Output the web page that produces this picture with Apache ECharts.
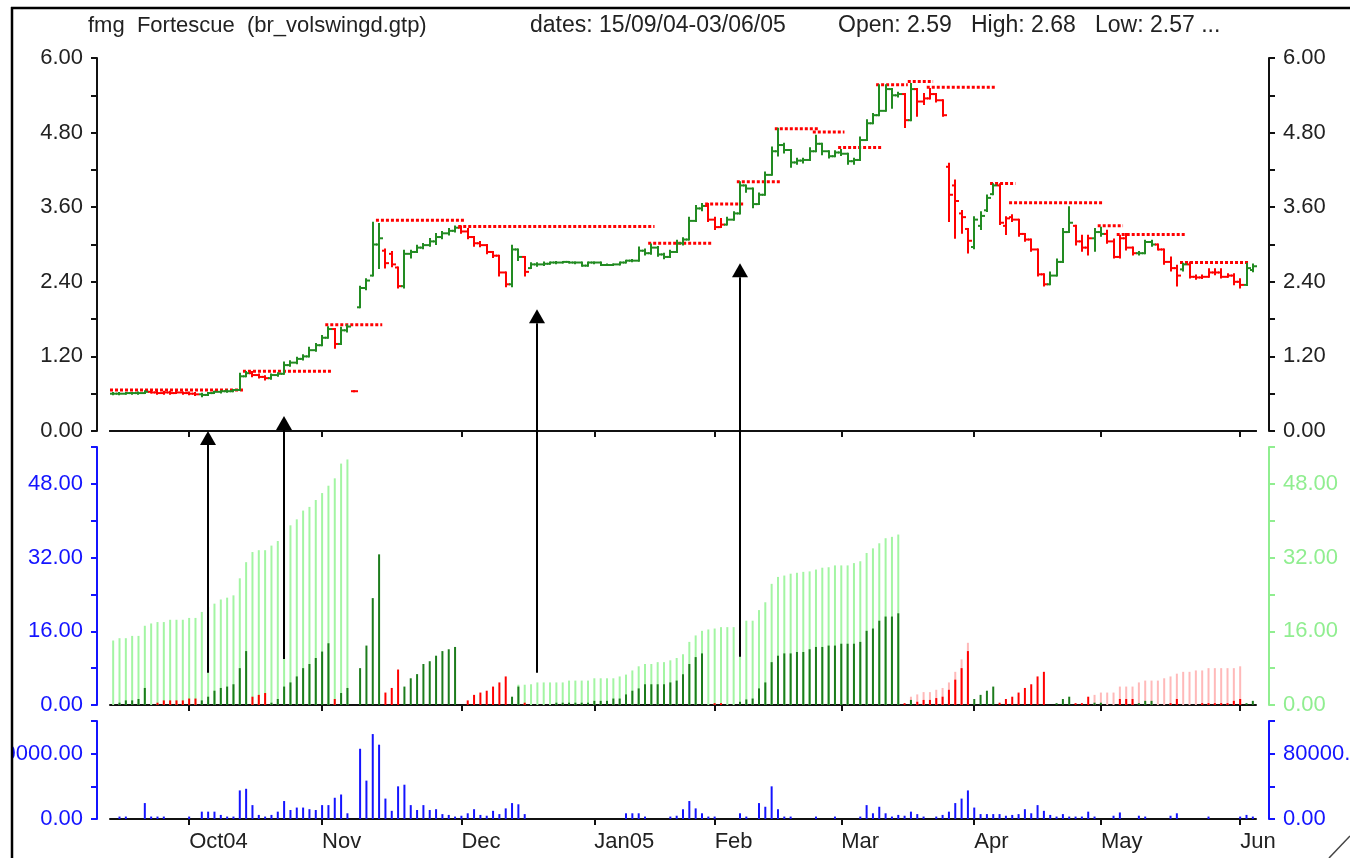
<!DOCTYPE html>
<html>
<head>
<meta charset="utf-8">
<title>fmg Fortescue</title>
<script src="https://cdn.jsdelivr.net/npm/echarts@6/dist/echarts.min.js"></script>
<style>
  html, body { margin: 0; padding: 0; background: #fff; }
  #chart { width: 1350px; height: 858px; }
</style>
</head>
<body>
<div id="chart"></div>
<script>
// trading days 15/09/04 .. 03/06/05, one entry per day
const open = [
  .60,.60,.60,.61,.61,.61,.63,.62,.61,.62,
  .61,.62,.61,.60,.59,.58,.61,.63,.64,.64,
  .66,.88,.93,.90,.87,.85,.90,.92,1.06,1.10,
  1.16,1.20,1.30,1.38,1.50,1.64,1.40,1.62,.64,1.99,
  2.30,2.50,3.00,2.90,2.85,2.63,2.33,2.85,2.88,2.95,
  2.99,3.05,3.12,3.18,3.22,3.27,3.21,3.12,3.02,2.99,
  2.88,2.82,2.55,2.36,2.92,2.80,2.62,2.68,2.68,2.69,
  2.71,2.71,2.72,2.71,2.71,2.66,2.71,2.71,2.67,2.67,
  2.68,2.71,2.74,2.74,2.90,2.86,2.95,2.84,2.80,2.88,
  3.02,3.08,3.38,3.58,3.62,3.40,3.28,3.32,3.40,3.50,
  3.95,3.90,3.65,3.80,4.12,4.50,4.60,4.52,4.32,4.35,
  4.36,4.50,4.62,4.50,4.42,4.48,4.46,4.34,4.36,4.68,
  4.95,5.08,5.15,5.50,5.40,5.42,5.00,5.50,5.30,5.35,
  5.42,5.32,4.25,3.95,3.50,3.25,2.96,3.30,3.55,3.81,
  3.95,3.30,3.44,3.40,3.17,3.08,2.92,2.52,2.36,2.50,
  2.72,3.20,3.30,3.05,2.95,3.10,3.20,3.17,3.05,2.80,
  3.10,2.95,2.86,2.86,3.04,3.00,2.92,2.72,2.62,2.60,
  2.68,2.48,2.47,2.48,2.55,2.55,2.48,2.50,2.40,2.35,
  2.59];
const high = [
  .61,.61,.61,.61,.62,.64,.64,.63,.63,.63,
  .63,.62,.62,.61,.60,.61,.63,.64,.65,.66,
  .92,.95,.95,.91,.88,.91,.93,1.10,1.12,1.18,
  1.22,1.34,1.40,1.53,1.67,1.64,1.66,1.70,.64,2.32,
  2.44,3.35,3.33,2.92,2.88,2.63,2.90,2.90,2.98,3.01,
  3.09,3.17,3.20,3.25,3.29,3.29,3.25,3.12,3.04,2.99,
  2.88,2.82,2.55,2.98,2.92,2.80,2.70,2.70,2.71,2.71,
  2.72,2.72,2.72,2.71,2.71,2.71,2.71,2.71,2.68,2.68,
  2.71,2.74,2.75,2.95,2.92,3.00,2.96,2.85,2.90,3.06,
  3.10,3.43,3.62,3.65,3.65,3.43,3.41,3.43,3.52,4.00,
  3.95,3.90,3.82,4.16,4.56,4.86,4.62,4.52,4.38,4.38,
  4.55,4.75,4.62,4.50,4.50,4.52,4.46,4.38,4.72,5.00,
  5.10,5.56,5.56,5.50,5.44,5.42,5.58,5.50,5.42,5.50,
  5.42,5.32,4.30,4.03,3.54,3.25,3.44,3.52,3.79,3.97,
  3.97,3.44,3.47,3.40,3.17,3.08,2.92,2.52,2.55,2.76,
  3.25,3.60,3.30,3.14,3.14,3.25,3.27,3.22,3.08,3.14,
  3.17,2.95,2.88,3.06,3.06,3.00,2.92,2.79,2.66,2.69,
  2.71,2.50,2.50,2.60,2.60,2.60,2.52,2.52,2.44,2.69,
  2.68];
const low = [
  .59,.59,.60,.60,.60,.61,.62,.60,.60,.60,
  .61,.60,.59,.58,.56,.58,.61,.62,.63,.64,
  .66,.88,.88,.86,.83,.84,.89,.92,1.05,1.09,
  1.15,1.20,1.29,1.38,1.50,1.34,1.40,1.60,.64,1.99,
  2.28,2.50,2.62,2.63,2.65,2.31,2.31,2.79,2.88,2.94,
  2.98,3.01,3.10,3.16,3.21,3.19,3.10,2.98,2.97,2.86,
  2.80,2.50,2.33,2.33,2.75,2.50,2.62,2.66,2.67,2.69,
  2.70,2.71,2.71,2.70,2.66,2.66,2.70,2.67,2.67,2.67,
  2.68,2.71,2.73,2.74,2.84,2.85,2.82,2.78,2.80,2.88,
  3.00,3.08,3.38,3.55,3.38,3.25,3.28,3.32,3.40,3.50,
  3.85,3.60,3.65,3.80,4.12,4.43,4.48,4.25,4.30,4.32,
  4.36,4.50,4.45,4.40,4.42,4.44,4.30,4.30,4.36,4.68,
  4.95,5.08,5.15,5.20,5.38,4.89,5.00,5.07,5.26,5.35,
  5.30,5.07,3.38,3.11,3.19,2.87,2.94,3.25,3.54,3.81,
  3.33,3.17,3.38,3.14,3.06,2.90,2.50,2.34,2.36,2.50,
  2.72,3.20,3.00,2.90,2.84,2.90,3.14,3.03,2.79,2.79,
  2.92,2.84,2.84,2.86,2.98,2.92,2.69,2.58,2.34,2.58,
  2.47,2.45,2.46,2.48,2.52,2.47,2.48,2.36,2.31,2.35,
  2.57];
const close = [
  .60,.60,.61,.61,.61,.63,.62,.61,.62,.61,
  .62,.61,.60,.59,.58,.61,.63,.64,.64,.66,
  .88,.93,.90,.87,.85,.90,.92,1.06,1.10,1.16,
  1.20,1.30,1.38,1.50,1.64,1.40,1.62,1.68,.64,2.30,
  2.42,3.00,3.10,2.70,2.68,2.33,2.85,2.88,2.95,2.99,
  3.05,3.12,3.18,3.22,3.27,3.21,3.12,3.02,2.99,2.88,
  2.82,2.55,2.36,2.92,2.80,2.56,2.68,2.68,2.69,2.71,
  2.71,2.72,2.71,2.71,2.66,2.71,2.71,2.67,2.67,2.68,
  2.71,2.74,2.74,2.90,2.86,2.95,2.84,2.80,2.88,3.02,
  3.08,3.38,3.58,3.62,3.40,3.28,3.32,3.40,3.50,3.95,
  3.90,3.65,3.80,4.12,4.50,4.60,4.52,4.32,4.35,4.36,
  4.50,4.62,4.50,4.42,4.48,4.46,4.34,4.36,4.68,4.95,
  5.08,5.15,5.50,5.40,5.42,5.00,5.50,5.30,5.35,5.42,
  5.32,5.08,3.80,3.70,3.44,3.06,3.40,3.46,3.75,3.95,
  3.35,3.42,3.40,3.17,3.08,2.92,2.52,2.36,2.50,2.72,
  3.20,3.35,3.05,2.95,3.10,3.20,3.17,3.05,2.80,3.10,
  2.95,2.86,2.86,3.04,3.00,2.92,2.72,2.62,2.50,2.68,
  2.48,2.47,2.48,2.55,2.55,2.48,2.50,2.40,2.35,2.62,
  2.65];
// swing direction of each day: 1 up, 0 down
const trendUp = [
  1,1,1,1,1,1,0,0,0,0,
  0,0,0,0,1,1,1,1,1,1,
  1,1,0,0,0,1,1,1,1,1,
  1,1,1,1,1,0,1,1,0,1,
  1,1,1,0,0,0,1,1,1,1,
  1,1,1,1,1,0,0,0,0,0,
  0,0,0,1,1,0,1,1,1,1,
  1,1,1,1,1,1,1,1,1,1,
  1,1,1,1,1,1,1,1,1,1,
  1,1,1,1,0,0,0,1,1,1,
  1,1,1,1,1,1,1,1,1,1,
  1,1,1,1,1,1,1,1,1,1,
  1,1,1,1,1,0,1,0,0,0,
  0,0,0,0,0,0,1,1,1,1,
  0,0,0,0,0,0,0,0,1,1,
  1,1,0,0,0,1,1,0,0,0,
  0,0,1,1,1,0,0,0,0,1,
  0,0,0,0,0,0,0,0,0,1,
  1];
// swing high levels: [first day, last day, price]
const swingLines = [
  [0, 20, 0.66], [21, 34, 0.96], [34, 42, 1.71], [42, 55, 3.39], [55, 85, 3.29],
  [85, 94, 3.02], [94, 99, 3.65], [99, 105, 4.01], [105, 111, 4.86], [111, 115, 4.81],
  [115, 121, 4.56], [121, 125, 5.57], [126, 129, 5.62], [129, 139, 5.53], [139, 142, 3.98],
  [142, 156, 3.67], [156, 159, 3.30], [159, 169, 3.16], [169, 179, 2.71]
];
// cumulative wave volume (light bars) and its waves
const waveVol = [
  14.0,14.5,14.5,15.0,15.0,17.2,17.7,18.0,18.0,18.5,
  18.5,18.5,18.9,18.9,20.2,21.3,22.0,22.9,23.3,23.8,
  27.5,31.0,33.2,33.6,33.6,34.6,35.6,38.1,39.0,40.3,
  42.2,43.0,44.5,46.0,47.6,49.2,52.4,53.3,0,0,
  0,0,0,0,0,0,0,0,0,0,
  0,0,0,0,0,0,0,0,0,0,
  0,0,0,0,4.4,4.4,4.5,4.9,4.9,4.9,
  4.9,4.9,5.3,5.3,5.3,5.3,5.8,5.8,5.8,5.8,
  6.2,6.6,7.5,8.4,8.9,8.9,9.3,9.3,9.7,10.2,
  11.0,13.7,15.1,16.1,16.4,16.6,16.9,16.9,16.9,17.7,
  18.3,18.3,20.6,22.3,26.3,27.8,28.1,28.5,28.7,28.9,
  29.0,29.4,29.8,29.9,30.3,30.3,30.3,30.8,31.2,33.0,
  34.0,35.1,36.2,36.5,37.0,0,1.8,2.3,2.8,2.8,
  3.3,3.7,4.9,7.2,9.9,13.5,0,0,0,0,
  0,0,0,0,0,0,0,0,0,0,
  0,0,0,0,0,2.2,2.7,2.7,2.7,4.0,
  4.0,4.0,4.9,5.3,5.3,5.3,5.8,6.2,6.8,7.2,
  7.2,7.5,7.5,8.0,8.0,8.0,8.0,8.0,8.4,0,
  0];
const waves = [[0, 124, 'up'], [125, 180, 'down']];
// swing volume (dark bars)
const swingVol = [
  0,.5,1.0,1.0,1.3,3.7,0,.5,1.0,1.0,
  1.0,1.0,1.4,1.4,1.0,1.8,3.1,3.7,4.0,4.5,
  8.0,11.7,1.8,2.2,2.6,.5,1.3,4.0,4.9,6.2,
  8.0,8.9,10.2,11.6,13.4,1.3,2.6,3.7,0,8.0,
  12.9,23.2,32.7,2.7,3.7,7.7,4.0,5.8,6.7,8.9,
  9.5,10.7,11.7,12.1,12.6,0,1.0,2.2,2.7,3.1,
  4.0,4.9,6.2,1.8,4.0,.5,0,0,0,0,
  .5,.5,.5,.5,.5,.5,.9,.9,.9,1.4,
  1.4,2.3,3.1,3.6,4.5,4.5,4.5,4.5,4.9,5.3,
  6.7,8.9,10.4,11.2,0,.4,.4,0,0,.7,
  1.2,1.4,3.6,4.9,9.3,10.7,11.2,11.2,11.5,11.5,
  12.1,12.6,12.6,12.9,12.9,13.3,13.3,13.3,13.7,16.1,
  16.6,18.3,19.2,19.2,19.9,.4,1.1,.7,1.1,1.1,
  1.5,1.8,3.3,5.5,8.0,11.7,1.3,2.2,3.1,4.0,
  .5,1.3,1.8,2.7,3.7,4.5,6.2,7.2,0,.4,
  1.3,1.8,.4,.4,1.8,.5,.5,0,0,1.3,
  1.3,1.3,.4,.9,.9,0,0,.4,1.3,0,
  0,0,.4,.4,.4,.4,.4,.9,1.3,.4,
  .9];
// daily volume
const volume = [
  0,3000,3000,0,0,19500,3000,3000,3000,0,
  0,0,3000,0,9000,9000,9000,5000,3000,3000,
  35000,37000,17000,5000,3000,5000,9000,22000,11000,14000,
  14000,12000,11000,17000,17000,26000,30000,7000,0,86000,
  47000,104000,91000,25000,10000,40000,42000,17000,11000,17000,
  11000,12000,6000,5000,3000,4000,7000,12000,5000,4000,
  10000,6000,13000,19500,18000,6000,0,0,0,0,
  0,0,0,0,0,0,0,0,0,0,
  0,7000,7000,7000,3000,0,0,0,3000,4000,
  12000,22000,13000,7000,3000,3000,0,0,0,7000,
  3000,0,19500,15000,40000,12000,3000,3000,0,0,
  0,3000,0,0,3000,0,0,0,3000,17000,
  7000,15000,7000,3000,5000,4000,9000,6000,3000,0,
  3000,5000,9000,19500,25000,35000,14000,6000,6000,6000,
  6000,4000,5000,6000,12000,7000,17000,10000,5000,3000,
  6000,3000,3000,3000,9000,3000,0,0,4000,8000,
  0,0,4000,3000,0,0,0,4000,7000,0,
  0,0,0,3000,0,0,0,0,3000,5000,
  3000];
const monthStart = [12, 33, 55, 76, 95, 115, 136, 156, 178];
const monthLabel = ['Oct04', 'Nov', 'Dec', 'Jan05', 'Feb', 'Mar', 'Apr', 'May', 'Jun'];
// annotation arrows: [day, volume at tail, price at head]
const arrows = [[15, 7, 0.0], [27, 10, 0.24], [67, 7, 1.96], [99, 10.5, 2.70]];

const lens = [open, high, low, close, trendUp, waveVol, swingVol, volume].map(a => a.length);
if (lens.some(n => n !== 181)) throw new Error('length mismatch ' + lens.join(','));

const FONT = '"Liberation Sans", Arial, sans-serif';
const GREEN = '#228b22', RED = '#ff0000', DKGREEN = '#1c7c1c';
const LTGREEN = '#a3f5a3', PINK = '#ffb9b9', BLUE = '#1414ff', INK = '#222';

const days = open.map((v, i) => i);
const isMonth = (i) => monthStart.indexOf(i) >= 0;

function dateAxis(grid, extra) {
  return Object.assign({
    type: 'category', gridIndex: grid, data: days, boundaryGap: true,
    axisLine: { show: true, lineStyle: { color: '#111', width: 2 } },
    axisTick: { show: true, interval: isMonth, alignWithLabel: true, length: 6,
                lineStyle: { color: '#111', width: 2 } },
    axisLabel: { show: false },
    splitLine: { show: false }
  }, extra || {});
}

function valueAxis(grid, pos, max, step, labelStep, lineColor, textColor) {
  return {
    type: 'value', gridIndex: grid, position: pos, min: 0, max: max, interval: step,
    offset: 13,
    axisLine: { show: true, lineStyle: { color: lineColor, width: 2 } },
    axisTick: { show: true, length: 6, lineStyle: { color: lineColor, width: 2 } },
    axisLabel: {
      color: textColor, fontFamily: FONT, fontSize: 22, margin: 14, hideOverlap: false,
      formatter: function (v) {
        const r = v / labelStep;
        return Math.abs(r - Math.round(r)) < 1e-6 ? v.toFixed(2) : '';
      }
    },
    splitLine: { show: false }
  };
}

function drawOhlc(params, api) {
  const i = api.value(0);
  const x = Math.round(api.coord([i, 0])[0]);
  const yo = api.coord([i, api.value(1)])[1];
  const yh = api.coord([i, api.value(2)])[1];
  const yl = api.coord([i, api.value(3)])[1];
  const yc = api.coord([i, api.value(4)])[1];
  const col = api.value(5) ? GREEN : RED;
  const st = () => ({ stroke: col, lineWidth: 2 });
  return {
    type: 'group',
    children: [
      { type: 'line', shape: { x1: x, y1: yh - 1, x2: x, y2: yl + 1 }, style: st() },
      { type: 'line', shape: { x1: x - 3, y1: yo, x2: x, y2: yo }, style: st() },
      { type: 'line', shape: { x1: x, y1: yc, x2: x + 4, y2: yc }, style: st() }
    ]
  };
}

function drawSwing(params, api) {
  const a = api.coord([api.value(0), api.value(2)]);
  const b = api.coord([api.value(1), api.value(2)]);
  const half = api.size([1, 0])[0] / 2;
  return {
    type: 'line',
    shape: { x1: a[0] - half, y1: a[1], x2: b[0] + half, y2: b[1] },
    style: { stroke: RED, lineWidth: 3, lineDash: [3, 2] }
  };
}

function waveColor(i) {
  for (const w of waves) {
    if (i >= w[0] && i <= w[1]) return w[2] === 'up' ? LTGREEN : PINK;
  }
  return LTGREEN;
}

const chart = echarts.init(document.getElementById('chart'), null, { renderer: 'canvas' });

const titleStyle = { fontFamily: FONT, fontSize: 22, fontWeight: 'normal', color: INK };
const titleStyleWide = Object.assign({}, titleStyle, { fontSize: 23 });

const gridBase = { left: 110, right: 94, outerBoundsMode: 'none', containLabel: false };

chart.setOption({
  animation: false,
  backgroundColor: '#fff',
  title: [
    { text: 'fmg  Fortescue  (br_volswingd.gtp)', left: 88, top: 15, padding: 0, textStyle: titleStyle },
    { text: 'dates: 15/09/04-03/06/05', left: 530, top: 14, padding: 0, textStyle: titleStyleWide },
    { text: 'Open: 2.59   High: 2.68   Low: 2.57 ...', left: 838, top: 14, padding: 0, textStyle: titleStyleWide }
  ],
  grid: [
    Object.assign({ top: 58, height: 373 }, gridBase),
    Object.assign({ top: 447, height: 258 }, gridBase),
    Object.assign({ top: 721, height: 98 }, gridBase)
  ],
  xAxis: [
    dateAxis(0),
    dateAxis(0, { position: 'top',
      axisTick: { show: true, interval: isMonth, alignWithLabel: true, inside: true, length: 5,
                  lineStyle: { color: '#111', width: 2 } } }),
    dateAxis(1),
    dateAxis(2, {
      axisLabel: {
        show: true, interval: isMonth, align: 'left', margin: 12,
        fontFamily: FONT, fontSize: 22, color: INK,
        formatter: (v, i) => monthLabel[monthStart.indexOf(i)] || ''
      }
    })
  ],
  yAxis: [
    valueAxis(0, 'left', 6, 0.6, 1.2, '#111', INK),
    valueAxis(0, 'right', 6, 0.6, 1.2, '#111', INK),
    valueAxis(1, 'left', 56, 8, 16, BLUE, BLUE),
    valueAxis(1, 'right', 56, 8, 16, '#90ee90', '#90ee90'),
    valueAxis(2, 'left', 120000, 40000, 80000, BLUE, BLUE),
    valueAxis(2, 'right', 120000, 40000, 80000, BLUE, BLUE)
  ],
  series: [
    {
      type: 'custom', name: 'swing highs', xAxisIndex: 0, yAxisIndex: 0,
      renderItem: drawSwing, encode: { x: [0, 1], y: 2 },
      data: swingLines, z: 3
    },
    {
      type: 'custom', name: 'price', xAxisIndex: 0, yAxisIndex: 0,
      renderItem: drawOhlc, encode: { x: 0, y: [1, 2, 3, 4] },
      data: days.map(i => [i, open[i], high[i], low[i], close[i], trendUp[i]]), z: 4
    },
    {
      type: 'bar', name: 'wave volume', xAxisIndex: 2, yAxisIndex: 2, barWidth: 2,
      data: waveVol.map((v, i) => ({ value: v, itemStyle: { color: waveColor(i) } }))
    },
    {
      type: 'bar', name: 'swing volume', xAxisIndex: 2, yAxisIndex: 2, barWidth: 2, barGap: '-100%',
      data: swingVol.map((v, i) => ({ value: v, itemStyle: { color: trendUp[i] ? DKGREEN : RED } }))
    },
    {
      type: 'bar', name: 'volume', xAxisIndex: 3, yAxisIndex: 4, barWidth: 2,
      itemStyle: { color: BLUE }, data: volume
    }
  ]
});

// frame, resize grip and annotation arrows
const g = [
  { type: 'rect', shape: { x: 0, y: 0, width: 11, height: 858 }, style: { fill: '#fff' }, z: 100 },
  { type: 'line', shape: { x1: 12, y1: 7, x2: 12, y2: 858 }, style: { stroke: '#000', lineWidth: 2.5 }, z: 101 },
  { type: 'line', shape: { x1: 11, y1: 8, x2: 1350, y2: 8 }, style: { stroke: '#000', lineWidth: 2.5 }, z: 101 },
  { type: 'line', shape: { x1: 1329, y1: 858, x2: 1350, y2: 836 }, style: { stroke: '#444', lineWidth: 1.5 }, z: 101 }
];
arrows.forEach(a => {
  const tail = chart.convertToPixel({ gridIndex: 1 }, [a[0], a[1]]);
  const tip = chart.convertToPixel({ gridIndex: 0 }, [a[0], a[2]]);
  const x = Math.round(tail[0]);
  const base = tip[1] + 14;
  g.push({ type: 'line', shape: { x1: x, y1: tail[1], x2: x, y2: base },
           style: { stroke: '#000', lineWidth: 2 }, z: 90 });
  g.push({ type: 'polygon', shape: { points: [[x - 8, base], [x + 8, base], [x, tip[1]]] },
           style: { fill: '#000' }, z: 90 });
});
chart.setOption({ graphic: g });
</script>
</body>
</html>
